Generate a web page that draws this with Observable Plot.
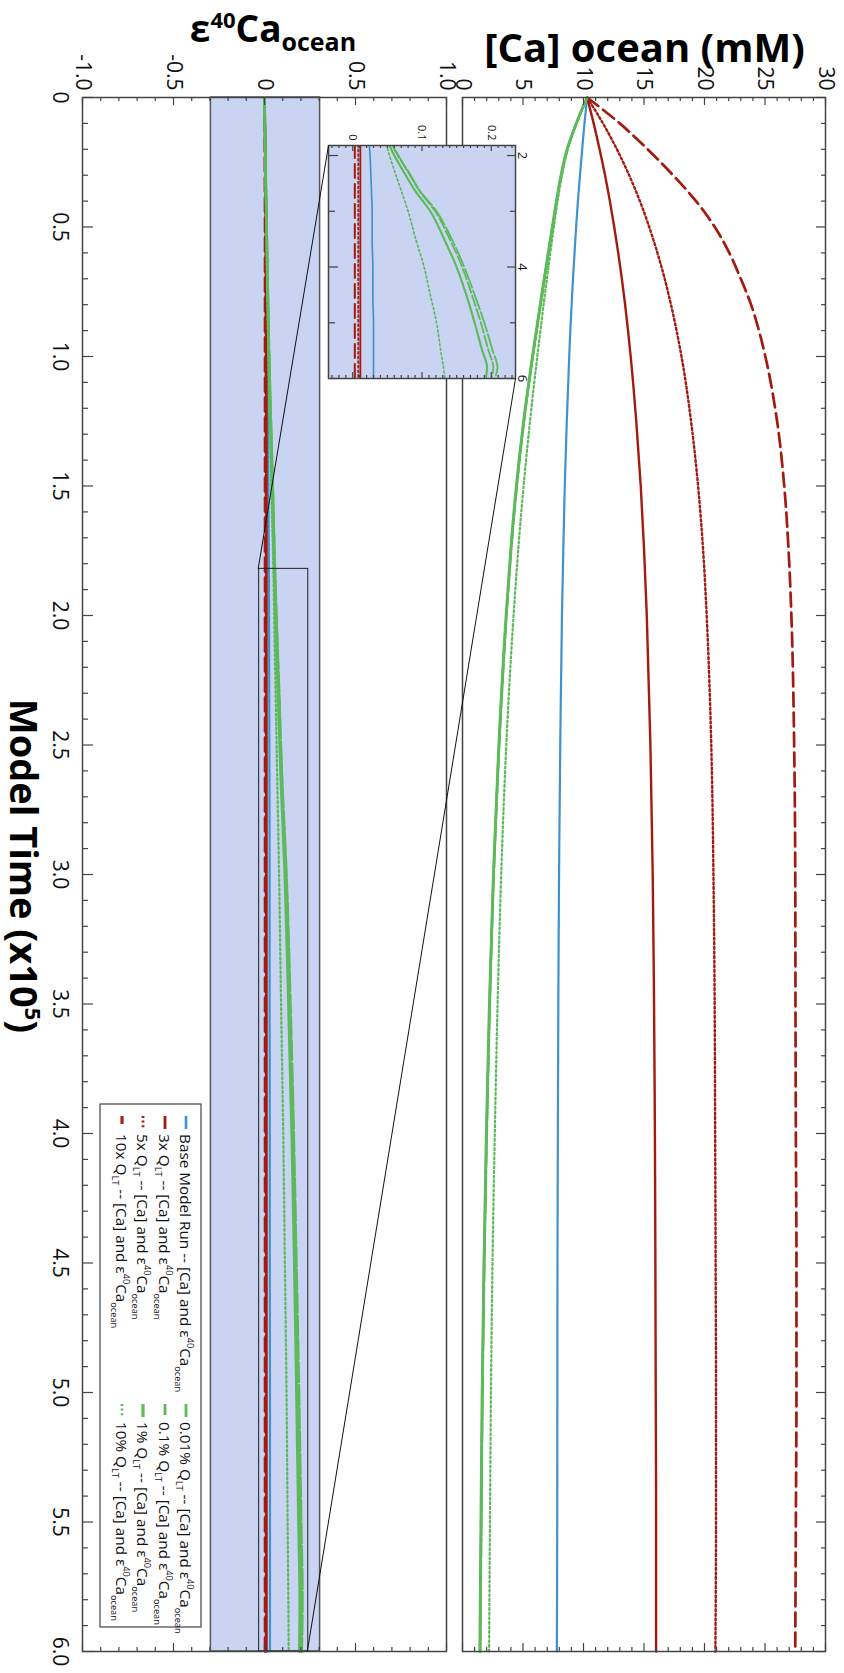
<!DOCTYPE html>
<html><head><meta charset="utf-8">
<script src="https://cdn.jsdelivr.net/npm/d3@7"></script>
<script src="https://cdn.jsdelivr.net/npm/@observablehq/plot@0.6"></script>
<style>
html,body{margin:0;padding:0;background:#fff;}
#page{position:relative;width:844px;height:1673px;overflow:hidden;background:#fff;}
#fig{position:absolute;left:0;top:0;width:1673px;height:844px;transform-origin:0 0;transform:translate(844px,0) rotate(90deg);}
</style></head>
<body><div id="page"><div id="fig"></div></div>
<script>
// ---------------- data ----------------
const timeCa = [0, 0.1, 0.2, 0.3, 0.4, 0.5, 0.6, 0.7, 0.8, 0.9, 1.0, 1.25, 1.5, 1.75, 2.0, 2.5, 3.0, 3.5, 4.0, 4.5, 5.0, 5.5, 6.0];
const caBase  = [10.3, 10.08, 9.89, 9.71, 9.54, 9.39, 9.26, 9.13, 9.02, 8.91, 8.82, 8.62, 8.45, 8.33, 8.22, 8.08, 7.98, 7.92, 7.88, 7.85, 7.84, 7.83, 7.8];
const ca3x    = [10.3, 10.84, 11.33, 11.78, 12.18, 12.54, 12.87, 13.17, 13.44, 13.68, 13.9, 14.36, 14.73, 15.01, 15.23, 15.53, 15.72, 15.83, 15.9, 15.94, 15.97, 16.0, 16.0];
const ca5x    = [10.3, 11.61, 12.76, 13.77, 14.66, 15.43, 16.11, 16.71, 17.23, 17.69, 18.1, 18.89, 19.47, 19.89, 20.18, 20.56, 20.74, 20.84, 20.88, 20.92, 20.95, 20.95, 20.9];
const ca10x   = [10.3, 13.0, 15.3, 17.4, 19.3, 20.85, 22.05, 23.0, 23.85, 24.5, 25.03, 26.0, 26.59, 26.95, 27.18, 27.41, 27.5, 27.52, 27.55, 27.6, 27.6, 27.55, 27.5];
const ca001   = [10.3, 9.42, 8.67, 8.17, 7.79, 7.45, 7.11, 6.78, 6.45, 6.13, 5.81, 5.08, 4.49, 4.02, 3.64, 3.04, 2.59, 2.26, 2.01, 1.81, 1.66, 1.56, 1.47];
const ca01    = [10.3, 9.41, 8.66, 8.16, 7.78, 7.44, 7.1, 6.77, 6.44, 6.12, 5.8, 5.07, 4.47, 4.0, 3.62, 3.02, 2.57, 2.24, 1.99, 1.79, 1.64, 1.54, 1.45];
const ca1     = [10.3, 9.4, 8.64, 8.14, 7.76, 7.42, 7.08, 6.75, 6.42, 6.1, 5.78, 5.05, 4.45, 3.98, 3.6, 3.0, 2.55, 2.22, 1.97, 1.77, 1.62, 1.52, 1.43];
const ca10pct = [10.3, 9.42, 8.7, 8.22, 7.86, 7.55, 7.26, 6.98, 6.7, 6.44, 6.18, 5.58, 5.05, 4.6, 4.22, 3.62, 3.2, 2.9, 2.67, 2.48, 2.35, 2.27, 2.2];

const timeEps = [0, 0.25, 0.5, 1.0, 1.5, 1.82, 2.0, 2.3, 2.63, 3.0, 3.5, 4.0, 4.5, 5.0, 5.5, 5.8, 6.0];
const epsBase  = [0, 0.006, 0.011, 0.017, 0.021, 0.024, 0.025, 0.026, 0.027, 0.028, 0.028, 0.029, 0.029, 0.030, 0.030, 0.030, 0.030];
const eps3x    = [0, 0.006, 0.008, 0.010, 0.011, 0.011, 0.011, 0.011, 0.011, 0.011, 0.011, 0.011, 0.011, 0.011, 0.011, 0.011, 0.011];
const eps5x    = [0, 0.004, 0.006, 0.007, 0.008, 0.008, 0.008, 0.008, 0.008, 0.008, 0.008, 0.008, 0.008, 0.008, 0.008, 0.008, 0.008];
const eps10x   = [0, 0.002, 0.003, 0.003, 0.003, 0.003, 0.003, 0.003, 0.003, 0.003, 0.003, 0.003, 0.003, 0.003, 0.003, 0.003, 0.003];
const eps001   = [0, 0.005, 0.012, 0.026, 0.046, 0.058, 0.066, 0.081, 0.097, 0.121, 0.143, 0.161, 0.176, 0.190, 0.202, 0.209, 0.205];
const eps01    = [0, 0.005, 0.012, 0.026, 0.045, 0.057, 0.065, 0.080, 0.096, 0.119, 0.140, 0.158, 0.172, 0.185, 0.196, 0.203, 0.200];
const eps1     = [0, 0.005, 0.011, 0.024, 0.042, 0.053, 0.060, 0.074, 0.090, 0.112, 0.132, 0.150, 0.164, 0.176, 0.187, 0.194, 0.192];
const eps10pct = [0, 0.004, 0.009, 0.021, 0.037, 0.049, 0.053, 0.061, 0.070, 0.080, 0.091, 0.103, 0.112, 0.121, 0.127, 0.131, 0.133];

const runKeys = ["base", "x3", "x5", "x10", "p001", "p01", "p1", "p10"];
const runPrefix = ["Base Model Run", "3x Q", "5x Q", "10x Q", "0.01% Q", "0.1% Q", "1% Q", "10% Q"];
const caSeries = {base: caBase, x3: ca3x, x5: ca5x, x10: ca10x, p001: ca001, p01: ca01, p1: ca1, p10: ca10pct};
const epsSeries = {base: epsBase, x3: eps3x, x5: eps5x, x10: eps10x, p001: eps001, p01: eps01, p1: eps1, p10: eps10pct};

const timeTicks = [0, 0.5, 1, 1.5, 2, 2.5, 3, 3.5, 4, 4.5, 5, 5.5, 6];
const timeTickLabels = ["0", "0.5", "1.0", "1.5", "2.0", "2.5", "3.0", "3.5", "4.0", "4.5", "5.0", "5.5", "6.0"];
const caTicks = [0, 5, 10, 15, 20, 25, 30];
const caTickLabels = ["0", "5", "10", "15", "20", "25", "30"];
const epsTicks = [-1, -0.5, 0, 0.5, 1];
const epsTickLabels = ["-1.0", "-0.5", "0", "0.5", "1.0"];
const insetTimeTicks = [2, 4, 6];
const insetTimeLabels = ["2", "4", "6"];
const insetEpsTicks = [0, 0.1, 0.2];
const insetEpsLabels = ["0", "0.1", "0.2"];
const bandLimits = [-0.3, 0.3];
const zoomTime = [1.82, 6.0];
const zoomEps = [-0.035, 0.235];

// ---------------- styles & layout ----------------
const BLUE = "#3f92cf", RED = "#a31a0f", GREEN = "#5cba5a", BAND = "#c9d3f2", FRAME = "#444";
const FONT = "'Open Sans','Noto Sans',sans-serif";
const runStyles = {
  base: {stroke: BLUE, strokeWidth: 2.2},
  x3:   {stroke: RED, strokeWidth: 2.4},
  x5:   {stroke: RED, strokeWidth: 2.4, strokeDasharray: "2,2.6"},
  x10:  {stroke: RED, strokeWidth: 2.7, strokeDasharray: "14,6"},
  p001: {stroke: GREEN, strokeWidth: 2.4, strokeDasharray: "20,3"},
  p01:  {stroke: GREEN, strokeWidth: 2.4, strokeDasharray: "11,3"},
  p1:   {stroke: GREEN, strokeWidth: 2.8},
  p10:  {stroke: GREEN, strokeWidth: 2.2, strokeDasharray: "2,2.6"}
};
const thin = st => ({...st, strokeWidth: st.strokeWidth * 0.75});
// layout in the un-rotated frame (whole figure turned 90deg clockwise by CSS)
const W = 1673, H = 844, L0 = 97, R0 = 1651;
const caTop = 18, caBottom = 381, epsTop = 397, epsBottom = 761;
const inL = 145, inR = 378, inT = 328, inB = 515;
const svgStyle = `background:transparent;overflow:visible;position:absolute;left:0;top:0;max-width:none;font-family:${FONT};`;

const rows = (ts, vs) => ts.map((t, i) => ({t, v: vs[i]}));
const range10 = (a, b, step) => d3.range(Math.round(a / step), Math.round(b / step) + 1).map(i => +(i * step).toFixed(4));
const isMult = (d, m) => Math.abs(d / m - Math.round(d / m)) < 1e-6;

function xEdgeTicks(values, lenMinor, lenMajor, majorStep, edge, frameH) {
  const minor = values.filter(d => !isMult(d, majorStep)), major = values.filter(d => isMult(d, majorStep));
  const mk = (vals, len) => Plot.tickX(vals, {x: d => d, stroke: FRAME, strokeWidth: 1.2,
    ...(edge === "top" ? {insetBottom: frameH - len} : {insetTop: frameH - len})});
  return [mk(minor, lenMinor), mk(major, lenMajor)];
}
function yEdgeTicks(values, lenMinor, lenMajor, majorStep, edge, frameW) {
  const minor = values.filter(d => !isMult(d, majorStep)), major = values.filter(d => isMult(d, majorStep));
  const mk = (vals, len) => Plot.tickY(vals, {y: d => d, stroke: FRAME, strokeWidth: 1.2,
    ...(edge === "left" ? {insetRight: frameW - len} : {insetLeft: frameW - len})});
  return [mk(minor, lenMinor), mk(major, lenMajor)];
}
const fmt = (ticks, labels) => d => labels[ticks.findIndex(t => Math.abs(t - d) < 1e-9)];

const fig = document.getElementById("fig");
const frameW = R0 - L0;

// ---------------- [Ca] panel ----------------
const caPlot = Plot.plot({
  width: W, height: H, marginLeft: L0, marginRight: W - R0, marginTop: caTop, marginBottom: H - caBottom,
  x: {domain: [0, 6], axis: null}, y: {domain: [0, 30], axis: null},
  style: svgStyle,
  marks: [
    ...runKeys.map(k => Plot.line(rows(timeCa, caSeries[k]), {x: "t", y: "v", curve: "monotone-x", ...runStyles[k]})),
    ...xEdgeTicks(range10(0, 6, 0.1), 5, 10, 0.5, "top", caBottom - caTop),
    ...yEdgeTicks(range10(0, 30, 1), 4, 8, 5, "left", frameW),
    ...yEdgeTicks(range10(0, 30, 1), 4, 8, 5, "right", frameW),
    Plot.frame({stroke: FRAME, strokeWidth: 1.5}),
    Plot.axisY({anchor: "left", ticks: caTicks, tickSize: 0, tickPadding: 7, fontSize: 21, label: null, fill: "#111", tickFormat: fmt(caTicks, caTickLabels)})
  ]
});
fig.appendChild(caPlot);

// ---------------- epsilon panel ----------------
const epsPlot = Plot.plot({
  width: W, height: H, marginLeft: L0, marginRight: W - R0, marginTop: epsTop, marginBottom: H - epsBottom,
  x: {domain: [0, 6], axis: null}, y: {domain: [-1, 1], axis: null},
  style: svgStyle,
  marks: [
    Plot.rect([{t1: 0, t2: 6, e1: bandLimits[0], e2: bandLimits[1]}], {x1: "t1", x2: "t2", y1: "e1", y2: "e2", fill: BAND, stroke: "#555", strokeWidth: 1.5}),
    ...runKeys.map(k => Plot.line(rows(timeEps, epsSeries[k]), {x: "t", y: "v", curve: "monotone-x", ...runStyles[k]})),
    Plot.rect([{t1: zoomTime[0], t2: zoomTime[1], e1: zoomEps[0], e2: zoomEps[1]}], {x1: "t1", x2: "t2", y1: "e1", y2: "e2", fill: "none", stroke: "#222", strokeWidth: 1}),
    ...xEdgeTicks(range10(0, 6, 0.1), 5, 10, 0.5, "bottom", epsBottom - epsTop),
    ...yEdgeTicks(range10(-1, 1, 0.1), 4, 8, 0.5, "left", frameW),
    ...yEdgeTicks(range10(-1, 1, 0.1), 4, 8, 0.5, "right", frameW),
    Plot.frame({stroke: FRAME, strokeWidth: 1.5}),
    Plot.axisY({anchor: "left", ticks: epsTicks, tickSize: 0, tickPadding: 7, fontSize: 21, label: null, fill: "#111", tickFormat: fmt(epsTicks, epsTickLabels)}),
    Plot.axisX({anchor: "bottom", ticks: timeTicks, tickSize: 0, tickPadding: 15, fontSize: 21, label: null, fill: "#111", tickFormat: fmt(timeTicks, timeTickLabels)})
  ]
});
fig.appendChild(epsPlot);

// ---------------- inset ----------------
const insetPlot = Plot.plot({
  width: W, height: H, marginLeft: inL, marginRight: W - inR, marginTop: inT, marginBottom: H - inB,
  x: {domain: zoomTime, axis: null}, y: {domain: zoomEps, axis: null},
  style: svgStyle,
  marks: [
    Plot.rect([{t1: 0, t2: 6, e1: bandLimits[0], e2: bandLimits[1]}], {x1: "t1", x2: "t2", y1: "e1", y2: "e2", fill: BAND, clip: true}),
    ...runKeys.map(k => Plot.line(rows(timeEps, epsSeries[k]), {x: "t", y: "v", curve: "monotone-x", clip: true, ...thin(runStyles[k])})),
    ...xEdgeTicks([2, 3, 4, 5, 6], 6, 9, 2, "top", inB - inT),
    ...xEdgeTicks([2, 3, 4, 5, 6], 6, 9, 2, "bottom", inB - inT),
    ...yEdgeTicks(range10(-0.03, 0.23, 0.01), 3, 6, 0.1, "left", inR - inL),
    ...yEdgeTicks(range10(-0.03, 0.23, 0.01), 3, 6, 0.1, "right", inR - inL),
    Plot.frame({stroke: FRAME, strokeWidth: 1.5}),
    Plot.axisY({anchor: "left", ticks: insetEpsTicks, tickSize: 0, tickPadding: 5, fontSize: 11, label: null, fill: "#111", tickFormat: fmt(insetEpsTicks, insetEpsLabels)}),
    Plot.axisX({anchor: "top", ticks: insetTimeTicks, tickSize: 0, tickPadding: 2, fontSize: 13, label: null, fill: "#111", tickFormat: fmt(insetTimeTicks, insetTimeLabels)})
  ]
});
fig.appendChild(insetPlot);

// ---------------- overlay: connectors, titles, legend ----------------
const ex = epsPlot.scale("x"), ey = epsPlot.scale("y");
const ix = insetPlot.scale("x"), iy = insetPlot.scale("y");
const connectors = [0, 1].map(i => ({
  t1: zoomTime[i], e1: zoomEps[i],
  t2: ex.invert(ix.apply(zoomTime[i])), e2: ey.invert(iy.apply(zoomEps[i]))
}));
const overlay = Plot.plot({
  width: W, height: H, marginLeft: L0, marginRight: W - R0, marginTop: epsTop, marginBottom: H - epsBottom,
  x: {domain: [0, 6], axis: null}, y: {domain: [-1, 1], axis: null},
  style: svgStyle,
  marks: [Plot.link(connectors, {x1: "t1", y1: "e1", x2: "t2", y2: "e2", stroke: "#111", strokeWidth: 1})]
});
fig.appendChild(overlay);

const svg = d3.select(overlay);
function rich(g, parts) {
  parts.forEach(p => {
    const ts = g.append("tspan").text(p.text);
    if (p.size) ts.attr("font-size", p.size);
    if (p.dy) ts.attr("dy", p.dy);
  });
}
const caY = caPlot.scale("y");
const titles = svg.append("g").attr("font-family", FONT).attr("font-weight", 700).attr("fill", "#000").attr("text-anchor", "middle");
titles.append("text").attr("transform", `translate(62,${caY.apply(15)}) rotate(-90)`).attr("font-size", 40).text("[Ca] ocean (mM)");
rich(titles.append("text").attr("transform", `translate(42,${ey.apply(0) - 8}) rotate(-90)`).attr("font-size", 37), [
  {text: "ε"}, {text: "40", size: 22, dy: -14}, {text: "Ca", size: 37, dy: 14}, {text: "ocean", size: 25, dy: 9}
]);
rich(titles.append("text").attr("x", (L0 + R0) / 2 - 8).attr("y", 834).attr("font-size", 38), [
  {text: "Model Time (x10"}, {text: "5", size: 22, dy: -15}, {text: ")", size: 38, dy: 15}
]);

// legend
const LF = 15.3, LS = 9.2;
const lg = svg.append("g").attr("font-family", FONT).attr("font-size", LF).attr("fill", "#111").attr("text-anchor", "start");
lg.append("rect").attr("x", 1104).attr("y", 643).attr("width", 523).attr("height", 101).attr("fill", "white").attr("stroke", "#444").attr("stroke-width", 1.2);
const rowY = [658, 679, 701, 722], colX = [1116, 1404];
runKeys.forEach((k, i) => {
  const x = colX[Math.floor(i / 4)], y = rowY[i % 4], st = runStyles[k];
  lg.append("line").attr("x1", x).attr("x2", x + 13).attr("y1", y).attr("y2", y)
    .attr("stroke", st.stroke).attr("stroke-width", st.strokeWidth + 0.4).attr("stroke-dasharray", st.strokeDasharray ? (k === "x10" ? "8,6" : st.strokeDasharray) : null);
  const parts = [{text: runPrefix[i]}];
  if (k !== "base") parts.push({text: "LT", size: LS, dy: 4}, {text: " -- [Ca] and ε", size: LF, dy: -4});
  else parts.push({text: " -- [Ca] and ε"});
  parts.push({text: "40", size: LS, dy: -7}, {text: "Ca", size: LF, dy: 7}, {text: "ocean", size: LS, dy: 5});
  rich(lg.append("text").attr("x", x + 18).attr("y", y + 6), parts);
});
</script></body></html>
